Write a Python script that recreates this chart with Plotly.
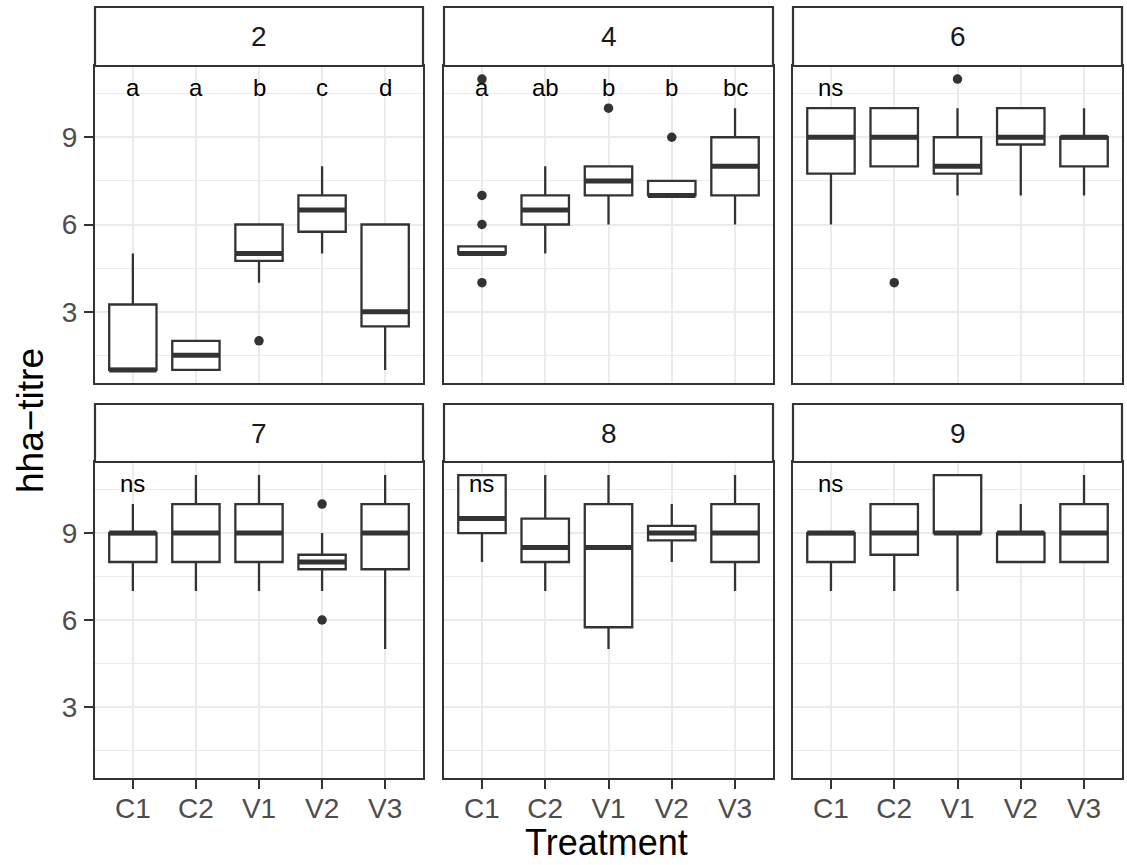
import plotly.graph_objects as go

# ---------------- data ----------------
categories = ["C1", "C2", "V1", "V2", "V3"]
facets = ["2", "4", "6", "7", "8", "9"]

lower_whisker = [
    [1, 1, 4, 5, 1],
    [5, 5, 6, 7, 6],
    [6, 8, 7, 7, 7],
    [7, 7, 7, 7, 5],
    [8, 7, 5, 8, 7],
    [7, 7, 7, 8, 8],
]
q1 = [
    [1, 1, 4.75, 5.75, 2.5],
    [5, 6, 7, 7, 7],
    [7.75, 8, 7.75, 8.75, 8],
    [8, 8, 8, 7.75, 7.75],
    [9, 8, 5.75, 8.75, 8],
    [8, 8.25, 9, 8, 8],
]
median = [
    [1, 1.5, 5, 6.5, 3],
    [5, 6.5, 7.5, 7, 8],
    [9, 9, 8, 9, 9],
    [9, 9, 9, 8, 9],
    [9.5, 8.5, 8.5, 9, 9],
    [9, 9, 9, 9, 9],
]
q3 = [
    [3.25, 2, 6, 7, 6],
    [5.25, 7, 8, 7.5, 9],
    [10, 10, 9, 10, 9],
    [9, 10, 10, 8.25, 10],
    [11, 9.5, 10, 9.25, 10],
    [9, 10, 11, 9, 10],
]
upper_whisker = [
    [5, 2, 6, 8, 6],
    [5.25, 8, 8, 7.5, 10],
    [10, 10, 10, 10, 10],
    [10, 11, 11, 9, 11],
    [11, 11, 11, 10, 11],
    [9, 10, 11, 10, 11],
]

outlier_facet = ["2", "4", "4", "4", "4", "4", "4", "6", "6", "7", "7"]
outlier_cat = ["V1", "C1", "C1", "C1", "C1", "V1", "V2", "C2", "V1", "V2", "V2"]
outlier_value = [2, 11, 7, 6, 4, 10, 9, 4, 11, 10, 6]

label_facet = ["2"] * 5 + ["4"] * 5 + ["6", "7", "8", "9"]
label_cat = categories * 2 + ["C1"] * 4
label_text = ["a", "a", "b", "c", "d", "a", "ab", "b", "b", "bc", "ns", "ns", "ns", "ns"]
label_y = 10.7

y_ticks = [3, 6, 9]
y_minor = [1.5, 4.5, 7.5, 10.5]

# ---------------- layout geometry (pixels) ----------------
W, H = 1127, 865
col_px = [(95, 423), (444, 773), (793, 1122)]
row_px = [(66, 383), (462, 778)]
strip_px = [(7, 66), (404, 462)]

FONT = "Liberation Sans, Arial, Helvetica, sans-serif"
DARK = "#333333"
GRID = "#ebebeb"
BOX_W = 0.75

def px_x(x):
    return x / W

def px_y(y):
    return 1 - y / H

fig = go.Figure()
pos = {c: i + 1 for i, c in enumerate(categories)}
shapes = []
annotations = []
layout_axes = {}

for i, f in enumerate(facets):
    r, c = divmod(i, 3)
    k = i + 1
    xa = "x" if k == 1 else f"x{k}"
    ya = "y" if k == 1 else f"y{k}"
    xs = [pos[cat] for cat in categories]

    fig.add_trace(go.Box(
        x=xs, q1=q1[i], median=median[i], q3=q3[i],
        lowerfence=lower_whisker[i], upperfence=upper_whisker[i],
        width=BOX_W, whiskerwidth=0, boxpoints=False,
        fillcolor="white", line=dict(color=DARK, width=2.3),
        xaxis=xa, yaxis=ya, showlegend=False, hoverinfo="skip",
    ))

    mx, my = [], []
    for xv, m in zip(xs, median[i]):
        mx += [xv - BOX_W / 2, xv + BOX_W / 2, None]
        my += [m, m, None]
    fig.add_trace(go.Scatter(
        x=mx, y=my, mode="lines", line=dict(color=DARK, width=5),
        xaxis=xa, yaxis=ya, showlegend=False, hoverinfo="skip",
    ))

    ox = [pos[cc] for ff, cc in zip(outlier_facet, outlier_cat) if ff == f]
    oy = [v for ff, v in zip(outlier_facet, outlier_value) if ff == f]
    if ox:
        fig.add_trace(go.Scatter(
            x=ox, y=oy, mode="markers", marker=dict(color=DARK, size=9.5),
            xaxis=xa, yaxis=ya, showlegend=False, hoverinfo="skip",
        ))

    for ff, cc, t in zip(label_facet, label_cat, label_text):
        if ff == f:
            annotations.append(dict(
                x=pos[cc], y=label_y, xref=xa, yref=ya, text=t, showarrow=False,
                font=dict(family=FONT, size=24, color="black"),
                xanchor="center", yanchor="middle",
            ))

    x0, x1 = col_px[c]
    y0, y1 = row_px[r]
    s0, s1 = strip_px[r]
    bottom = r == 1
    left = c == 0

    layout_axes["xaxis" if k == 1 else f"xaxis{k}"] = dict(
        domain=[px_x(x0), px_x(x1)], anchor=ya, range=[0.4, 5.6],
        tickmode="array", tickvals=xs, ticktext=categories,
        showticklabels=bottom, ticks="outside" if bottom else "",
        ticklen=9, tickwidth=2.2, tickcolor=DARK, ticklabelstandoff=-5,
        tickfont=dict(family=FONT, size=28, color="#4d4d4d"),
        showgrid=True, gridcolor=GRID, gridwidth=2.4, zeroline=False,
        showline=True, mirror=True, linecolor=DARK, linewidth=2.2,
        fixedrange=True,
    )
    layout_axes["yaxis" if k == 1 else f"yaxis{k}"] = dict(
        domain=[px_y(y1), px_y(y0)], anchor=xa, range=[0.55, 11.45],
        tickmode="array", tickvals=y_ticks,
        showticklabels=left, ticks="outside" if left else "",
        ticklen=9, tickwidth=2.2, tickcolor=DARK, ticklabelstandoff=1,
        tickfont=dict(family=FONT, size=28, color="#4d4d4d"),
        showgrid=True, gridcolor=GRID, gridwidth=2.4, zeroline=False,
        minor=dict(tickmode="array", tickvals=y_minor, showgrid=True,
                   gridcolor=GRID, gridwidth=1.3, ticks=""),
        showline=True, mirror=True, linecolor=DARK, linewidth=2.2,
        fixedrange=True,
    )

    shapes.append(dict(
        type="rect", xref="paper", yref="paper",
        x0=px_x(x0), x1=px_x(x1), y0=px_y(s1), y1=px_y(s0),
        fillcolor="white", line=dict(color=DARK, width=2.2), layer="above",
    ))
    annotations.append(dict(
        x=px_x((x0 + x1) / 2), y=px_y((s0 + s1) / 2), xref="paper", yref="paper",
        text=f, showarrow=False, xanchor="center", yanchor="middle",
        font=dict(family=FONT, size=28, color="#1a1a1a"),
    ))

annotations.append(dict(
    x=px_x(606), y=px_y(842), xref="paper", yref="paper", text="Treatment",
    showarrow=False, xanchor="center", yanchor="middle",
    font=dict(family=FONT, size=36, color="black"),
))
annotations.append(dict(
    x=px_x(30), y=px_y(421), xref="paper", yref="paper", text="hha\u2212titre",
    showarrow=False, xanchor="center", yanchor="middle", textangle=-90,
    font=dict(family=FONT, size=37, color="black"),
))

fig.update_layout(
    width=W, height=H, margin=dict(l=0, r=0, t=0, b=0, pad=0),
    paper_bgcolor="white", plot_bgcolor="white",
    shapes=shapes, annotations=annotations, showlegend=False,
    font=dict(family=FONT),
    **layout_axes,
)

fig.write_html(
    "out.html",
    config={"displayModeBar": False},
    post_script="document.body.style.margin='0';document.body.style.overflow='hidden';",
)
